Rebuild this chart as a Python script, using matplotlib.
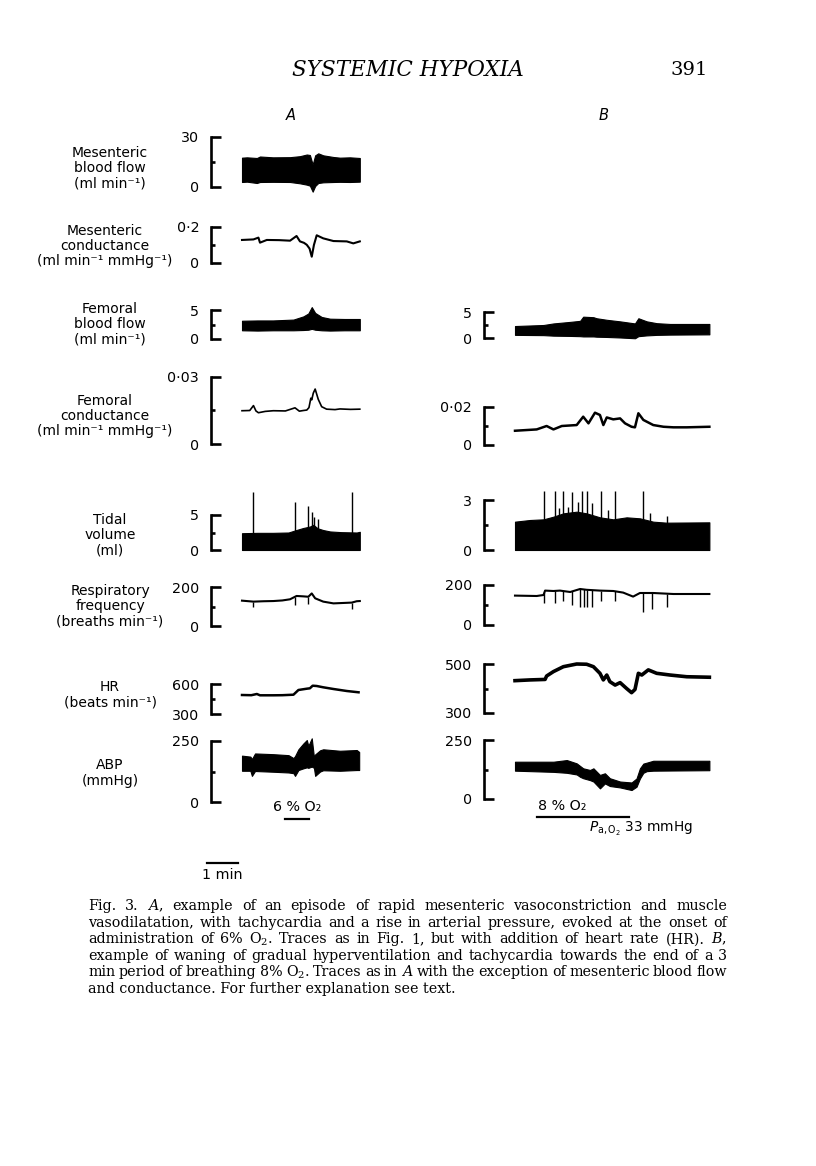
import matplotlib.pyplot as plt
from matplotlib.transforms import blended_transform_factory

plt.rcParams['font.family'] = ['DejaVu Sans', 'DejaVu Serif']

# ---- page size (pixels) and time scale ----
W, H = 816, 1166
PX_PER_MIN = 31
TMAX_A = 3.8
TMAX_B = 6.27

# ---- A: mesenteric blood flow (ml/min), band envelope ----
mbf_A_t = [0, 0.16, 0.48, 0.58, 1.0, 1.55, 1.87, 2.09, 2.19, 2.28, 2.36, 2.46, 2.62, 2.95, 3.16, 3.48, 3.8]
mbf_A_hi = [17.6, 17.8, 17.4, 18.3, 17.8, 17.9, 18.5, 19.5, 19.2, 13.5, 19.0, 20.2, 19.0, 18.0, 17.6, 17.8, 17.4]
mbf_A_lo = [3.0, 3.2, 2.4, 3.0, 3.1, 3.0, 2.2, 1.4, 0.8, -2.8, 0.6, 2.4, 2.8, 3.0, 3.1, 3.0, 3.2]

# ---- A: mesenteric conductance ----
mc_A_t = [0, 0.37, 0.53, 0.58, 0.8, 1.2, 1.55, 1.76, 1.87, 2.0, 2.09, 2.18, 2.25, 2.32, 2.41, 2.62, 2.95, 3.38, 3.59, 3.8]
mc_A = [0.128, 0.131, 0.141, 0.113, 0.128, 0.127, 0.124, 0.150, 0.12, 0.112, 0.101, 0.08, 0.035, 0.10, 0.154,
        0.137, 0.122, 0.12, 0.109, 0.12]

# ---- A: femoral blood flow, band ----
fbf_A_t = [0, 0.5, 1.0, 1.66, 1.98, 2.14, 2.25, 2.36, 2.57, 2.84, 3.3, 3.8]
fbf_A_hi = [3.15, 3.2, 3.2, 3.35, 3.9, 4.4, 5.5, 4.5, 3.8, 3.5, 3.45, 3.45]
fbf_A_lo = [1.5, 1.45, 1.5, 1.5, 1.55, 1.6, 1.75, 1.6, 1.5, 1.45, 1.5, 1.5]

# ---- A: femoral conductance ----
fc_A_t = [0, 0.25, 0.37, 0.45, 0.53, 0.75, 1.01, 1.4, 1.71, 1.85, 1.98, 2.09, 2.16, 2.22, 2.25, 2.3, 2.36,
          2.46, 2.57, 2.73, 3.0, 3.16, 3.5, 3.8]
fc_A = [0.0149, 0.0150, 0.0172, 0.0148, 0.0140, 0.0146, 0.0149, 0.0148, 0.0162, 0.0147, 0.0150, 0.0152,
        0.0163, 0.0205, 0.0198, 0.0228, 0.0246, 0.0200, 0.0167, 0.0156, 0.0154, 0.0157, 0.0155, 0.0156]

# ---- A: tidal volume (band from 0) and sighs ----
tv_A_t = [0, 0.5, 1.0, 1.5, 1.75, 1.98, 2.19, 2.3, 2.44, 2.62, 2.84, 3.2, 3.7, 3.8]
tv_A_top = [2.4, 2.45, 2.45, 2.5, 2.85, 3.15, 3.35, 3.6, 3.1, 2.85, 2.65, 2.55, 2.5, 2.6]
tv_A_spk_t = [0.34, 1.71, 2.14, 2.25, 2.32, 2.44, 3.54]
tv_A_spk_h = [8.3, 6.9, 6.3, 5.4, 4.7, 4.4, 8.3]

# ---- A: respiratory frequency ----
rf_A_t = [0, 0.37, 0.7, 1.01, 1.3, 1.55, 1.76, 1.98, 2.14, 2.25, 2.36, 2.62, 2.95, 3.25, 3.54, 3.7, 3.8]
rf_A = [130, 125, 127, 128, 131, 137, 154, 152, 150, 167, 142, 125, 116, 118, 120, 127, 128]
rf_A_dip_t = [0.37, 1.71, 2.14, 3.54]
rf_A_dip_lo = [96, 110, 112, 85]
rf_A_dip_hi = [125, 150, 150, 120]

# ---- A: heart rate ----
hr_A_t = [0, 0.3, 0.48, 0.58, 1.01, 1.3, 1.66, 1.82, 2.09, 2.19, 2.28, 2.41, 2.62, 2.95, 3.38, 3.76]
hr_A = [490, 488, 500, 487, 487, 488, 493, 540, 553, 557, 583, 580, 567, 550, 530, 517]

# ---- A: arterial blood pressure, band ----
abp_A_t = [0, 0.27, 0.32, 0.42, 1.01, 1.5, 1.66, 1.71, 1.82, 1.98, 2.09, 2.14, 2.25, 2.32, 2.36, 2.52, 2.62,
           3.16, 3.7, 3.78]
abp_A_hi = [190, 186, 176, 199, 196, 192, 180, 188, 216, 240, 254, 230, 261, 185, 195, 212, 216, 210, 213, 205]
abp_A_lo = [128, 128, 107, 127, 124, 121, 118, 107, 131, 138, 142, 140, 145, 140, 107, 125, 130, 128, 131, 131]

# ---- B: femoral blood flow, band ----
fbf_B_t = [0, 0.92, 1.24, 1.78, 2.1, 2.2, 2.53, 2.63, 2.96, 3.39, 3.87, 3.98, 4.25, 4.57, 5.0, 6.27]
fbf_B_hi = [2.3, 2.5, 2.8, 3.1, 3.3, 4.1, 4.0, 3.8, 3.5, 3.2, 2.8, 3.8, 3.2, 2.85, 2.7, 2.7]
fbf_B_lo = [0.6, 0.55, 0.45, 0.4, 0.35, 0.3, 0.3, 0.25, 0.2, 0.1, -0.05, 0.35, 0.5, 0.6, 0.65, 0.7]

# ---- B: femoral conductance ----
fc_B_t = [0, 0.7, 1.02, 1.24, 1.51, 1.99, 2.2, 2.37, 2.58, 2.74, 2.85, 2.96, 3.17, 3.39, 3.55, 3.76, 3.87,
          3.98, 4.14, 4.46, 4.79, 5.11, 5.54, 6.27]
fc_B = [0.0075, 0.0082, 0.0100, 0.0082, 0.0100, 0.0105, 0.0149, 0.0114, 0.0170, 0.0158, 0.0105, 0.0145,
        0.0135, 0.0140, 0.0114, 0.0096, 0.0093, 0.0167, 0.0132, 0.0105, 0.0096, 0.0093, 0.0093, 0.0096]

# ---- B: tidal volume and sighs ----
tv_B_t = [0, 0.48, 0.92, 1.24, 1.56, 1.99, 2.31, 2.74, 3.17, 3.6, 4.03, 4.46, 4.89, 6.27]
tv_B_top = [1.7, 1.8, 1.84, 2.0, 2.2, 2.3, 2.2, 1.96, 1.84, 1.96, 1.9, 1.7, 1.64, 1.66]
tv_B_spk_t = [0.95, 1.29, 1.43, 1.54, 1.72, 1.83, 2.04, 2.15, 2.31, 2.47, 2.76, 3.01, 3.23, 4.12, 4.35, 4.89]
tv_B_spk_h = [3.55, 3.55, 2.5, 3.55, 2.6, 3.5, 2.9, 3.55, 3.55, 2.85, 3.55, 2.4, 3.55, 3.55, 2.25, 2.05]

# ---- B: respiratory frequency ----
rf_B_t = [0, 0.7, 0.92, 0.97, 1.24, 1.45, 1.78, 2.1, 2.31, 2.74, 3.17, 3.49, 3.81, 4.03, 4.46, 5.11, 6.27]
rf_B = [147, 145, 150, 172, 170, 172, 165, 180, 176, 172, 170, 162, 142, 160, 160, 155, 155]
rf_B_dip_t = [0.95, 1.29, 1.54, 1.83, 2.1, 2.23, 2.31, 2.47, 2.76, 3.23, 4.14, 4.41, 4.89]
rf_B_dip_lo = [108, 112, 122, 100, 92, 88, 92, 92, 122, 122, 67, 78, 88]
rf_B_dip_hi = [165, 170, 170, 168, 180, 178, 176, 175, 172, 170, 160, 160, 157]

# ---- B: heart rate ----
hr_B_t = [0, 0.48, 0.97, 1.02, 1.24, 1.56, 1.99, 2.31, 2.53, 2.74, 2.85, 2.96, 3.06, 3.23, 3.39, 3.6, 3.76,
          3.87, 3.98, 4.09, 4.3, 4.57, 5.0, 5.54, 6.27]
hr_B = [432, 435, 437, 451, 469, 489, 500, 499, 489, 462, 435, 455, 428, 414, 424, 400, 383, 396, 462, 455,
        476, 462, 455, 448, 446]

# ---- B: arterial blood pressure, band ----
abp_B_t = [0, 1.24, 1.67, 1.99, 2.1, 2.2, 2.42, 2.53, 2.74, 2.9, 3.06, 3.39, 3.76, 3.92, 4.03, 4.14, 4.25, 4.46, 6.27]
abp_B_hi = [158, 158, 165, 151, 140, 130, 123, 130, 102, 109, 88, 74, 70, 87, 130, 150, 154, 162, 162]
abp_B_lo = [120, 115, 111, 104, 94, 88, 80, 74, 45, 66, 55, 49, 38, 52, 87, 111, 118, 120, 122]

# gas periods (min) and time calibration
o2_A = [1.39, 2.16]
o2_B = [0.71, 3.68]
one_min = [-1.13, -0.13]

# label text, centre x, centre y (pixels)
row_labels = [
    ('Mesenteric\nblood flow\n(ml min\u207b\u00b9)', 110, 168),
    ('Mesenteric\nconductance\n(ml min\u207b\u00b9 mmHg\u207b\u00b9)', 105, 246),
    ('Femoral\nblood flow\n(ml min\u207b\u00b9)', 110, 324),
    ('Femoral\nconductance\n(ml min\u207b\u00b9 mmHg\u207b\u00b9)', 105, 416),
    ('Tidal\nvolume\n(ml)', 110, 535),
    ('Respiratory\nfrequency\n(breaths min\u207b\u00b9)', 110, 606),
    ('HR\n(beats min\u207b\u00b9)', 110, 695),
    ('ABP\n(mmHg)', 110, 773),
]

caption = [
    'Fig. 3. $A$, example of an episode of rapid mesenteric vasoconstriction and muscle',
    'vasodilatation, with tachycardia and a rise in arterial pressure, evoked at the onset of',
    'administration of 6% O$_2$. Traces as in Fig. 1, but with addition of heart rate (HR). $B$,',
    'example of waning of gradual hyperventilation and tachycardia towards the end of a 3',
    'min period of breathing 8% O$_2$. Traces as in $A$ with the exception of mesenteric blood flow',
    'and conductance. For further explanation see text.',
]

fig = plt.figure(figsize=(W / 100, H / 100), dpi=100)
fig.patch.set_facecolor('white')


def ftext(x, y, s, **kw):
    return fig.text(x / W, 1 - y / H, s, **kw)


def trace_axes(x0, top, bottom, tmax, lo, hi, labels):
    ax = fig.add_axes([x0 / W, 1 - bottom / H, tmax * PX_PER_MIN / W, (bottom - top) / H])
    ax.set_xlim(0, tmax)
    ax.set_ylim(lo, hi)
    ax.patch.set_visible(False)
    for s in ['top', 'right', 'bottom']:
        ax.spines[s].set_visible(False)
    ax.spines['left'].set_position(('outward', 31 * 0.72))
    ax.spines['left'].set_linewidth(1.9)
    ax.set_xticks([])
    ax.set_yticks([lo, hi])
    ax.set_yticklabels(labels)
    ax.set_yticks([(lo + hi) / 2], minor=True)
    ax.tick_params(axis='y', which='major', direction='in', length=7.5, width=1.9, pad=8.5, labelsize=10.3)
    ax.tick_params(axis='y', which='minor', direction='in', length=3, width=1.9)
    return ax


def band(ax, t, lo, hi):
    ax.fill_between(t, lo, hi, color='black', lw=0.8, clip_on=False)


def trace(ax, t, y, lw=1.5):
    ax.plot(t, y, color='black', lw=lw, clip_on=False, solid_joinstyle='round')


# ---- column A ----
ax = trace_axes(242, 137, 187, TMAX_A, 0, 30, ['0', '30'])
band(ax, mbf_A_t, mbf_A_lo, mbf_A_hi)

ax = trace_axes(242, 227, 263, TMAX_A, 0, 0.2, ['0', '0\u00b72'])
trace(ax, mc_A_t, mc_A)

ax = trace_axes(242, 310, 339, TMAX_A, 0, 5, ['0', '5'])
band(ax, fbf_A_t, fbf_A_lo, fbf_A_hi)

ax = trace_axes(242, 377, 444, TMAX_A, 0, 0.03, ['0', '0\u00b703'])
trace(ax, fc_A_t, fc_A, lw=1.2)

ax = trace_axes(242, 515, 550, TMAX_A, 0, 5, ['0', '5'])
band(ax, tv_A_t, [0] * len(tv_A_t), tv_A_top)
ax.vlines(tv_A_spk_t, 0, tv_A_spk_h, color='black', lw=1.0, clip_on=False)

ax = trace_axes(242, 587, 626, TMAX_A, 0, 200, ['0', '200'])
trace(ax, rf_A_t, rf_A)
ax.vlines(rf_A_dip_t, rf_A_dip_lo, rf_A_dip_hi, color='black', lw=1.0, clip_on=False)

ax = trace_axes(242, 684, 714, TMAX_A, 300, 600, ['300', '600'])
trace(ax, hr_A_t, hr_A, lw=1.8)

ax = trace_axes(242, 741, 802, TMAX_A, 0, 250, ['0', '250'])
band(ax, abp_A_t, abp_A_lo, abp_A_hi)
tr = blended_transform_factory(ax.transData, ax.transAxes)
ax.plot(o2_A, [-0.28, -0.28], color='black', lw=1.6, transform=tr, clip_on=False)
ax.text(sum(o2_A) / 2, -0.08, '6 % O\u2082', transform=tr, ha='center', va='center', fontsize=10.3)
ax.plot(one_min, [-1.0, -1.0], color='black', lw=1.6, transform=tr, clip_on=False)
ax.text(sum(one_min) / 2, -1.2, '1 min', transform=tr, ha='center', va='center', fontsize=10.3)

# ---- column B ----
ax = trace_axes(515, 312, 338, TMAX_B, 0, 5, ['0', '5'])
band(ax, fbf_B_t, fbf_B_lo, fbf_B_hi)

ax = trace_axes(515, 407, 445, TMAX_B, 0, 0.02, ['0', '0\u00b702'])
trace(ax, fc_B_t, fc_B, lw=1.8)

ax = trace_axes(515, 500, 550, TMAX_B, 0, 3, ['0', '3'])
band(ax, tv_B_t, [0] * len(tv_B_t), tv_B_top)
ax.vlines(tv_B_spk_t, 0, tv_B_spk_h, color='black', lw=1.0, clip_on=False)

ax = trace_axes(515, 585, 625, TMAX_B, 0, 200, ['0', '200'])
trace(ax, rf_B_t, rf_B)
ax.vlines(rf_B_dip_t, rf_B_dip_lo, rf_B_dip_hi, color='black', lw=1.0, clip_on=False)

ax = trace_axes(515, 664, 713, TMAX_B, 300, 500, ['300', '500'])
trace(ax, hr_B_t, hr_B, lw=2.6)

ax = trace_axes(515, 740, 799, TMAX_B, 0, 250, ['0', '250'])
band(ax, abp_B_t, abp_B_lo, abp_B_hi)
tr = blended_transform_factory(ax.transData, ax.transAxes)
ax.plot(o2_B, [-0.305, -0.305], color='black', lw=1.6, transform=tr, clip_on=False)
ax.text(o2_B[0] + 0.03, -0.12, '8 % O\u2082', transform=tr, ha='left', va='center', fontsize=10.3)
ax.text(2.4, -0.51, r'$P_{\mathrm{a,O_2}}$ 33 mmHg', transform=tr, ha='left', va='center',
        fontsize=9.8, math_fontfamily='dejavusans')

# ---- labels ----
for txt, xc, yc in row_labels:
    ftext(xc, yc, txt, ha='center', va='center', fontsize=10, linespacing=1.12)
ftext(291, 116, 'A', ha='center', va='center', fontsize=10.5, style='italic')
ftext(604, 116, 'B', ha='center', va='center', fontsize=10.5, style='italic')

# ---- running head ----
ftext(408, 70, 'SYSTEMIC HYPOXIA', ha='center', va='center', fontsize=15.5, style='italic',
      family='DejaVu Serif')
ftext(708, 70, '391', ha='right', va='center', fontsize=14, family='DejaVu Serif')

# ---- justified caption ----
renderer = fig.canvas.get_renderer()
left, right = 88, 727


def caption_words(size, yb, line):
    return [ftext(left, yb, w, ha='left', va='baseline', fontsize=size, family='DejaVu Serif',
                  math_fontfamily='dejavuserif') for w in line.split(' ')]


# pick the largest size where every line still fits with a normal word gap
size = 10.5
while size > 7:
    ok = True
    for line in caption:
        tmp = caption_words(size, 0, line)
        need = sum(t.get_window_extent(renderer).width for t in tmp) + 3.0 * (len(tmp) - 1)
        for t in tmp:
            t.remove()
        if need > right - left:
            ok = False
    if ok:
        break
    size -= 0.25

for i, line in enumerate(caption):
    yb = 910 + 16.6 * i
    if i == len(caption) - 1:
        ftext(left, yb, line, ha='left', va='baseline', fontsize=size, family='DejaVu Serif',
              math_fontfamily='dejavuserif')
        continue
    texts = caption_words(size, yb, line)
    widths = [t.get_window_extent(renderer).width for t in texts]
    gap = (right - left - sum(widths)) / (len(texts) - 1)
    x = left
    for t, w in zip(texts, widths):
        t.set_x(x / W)
        x += w + gap

fig.savefig('out.png', dpi=100, facecolor='white')
